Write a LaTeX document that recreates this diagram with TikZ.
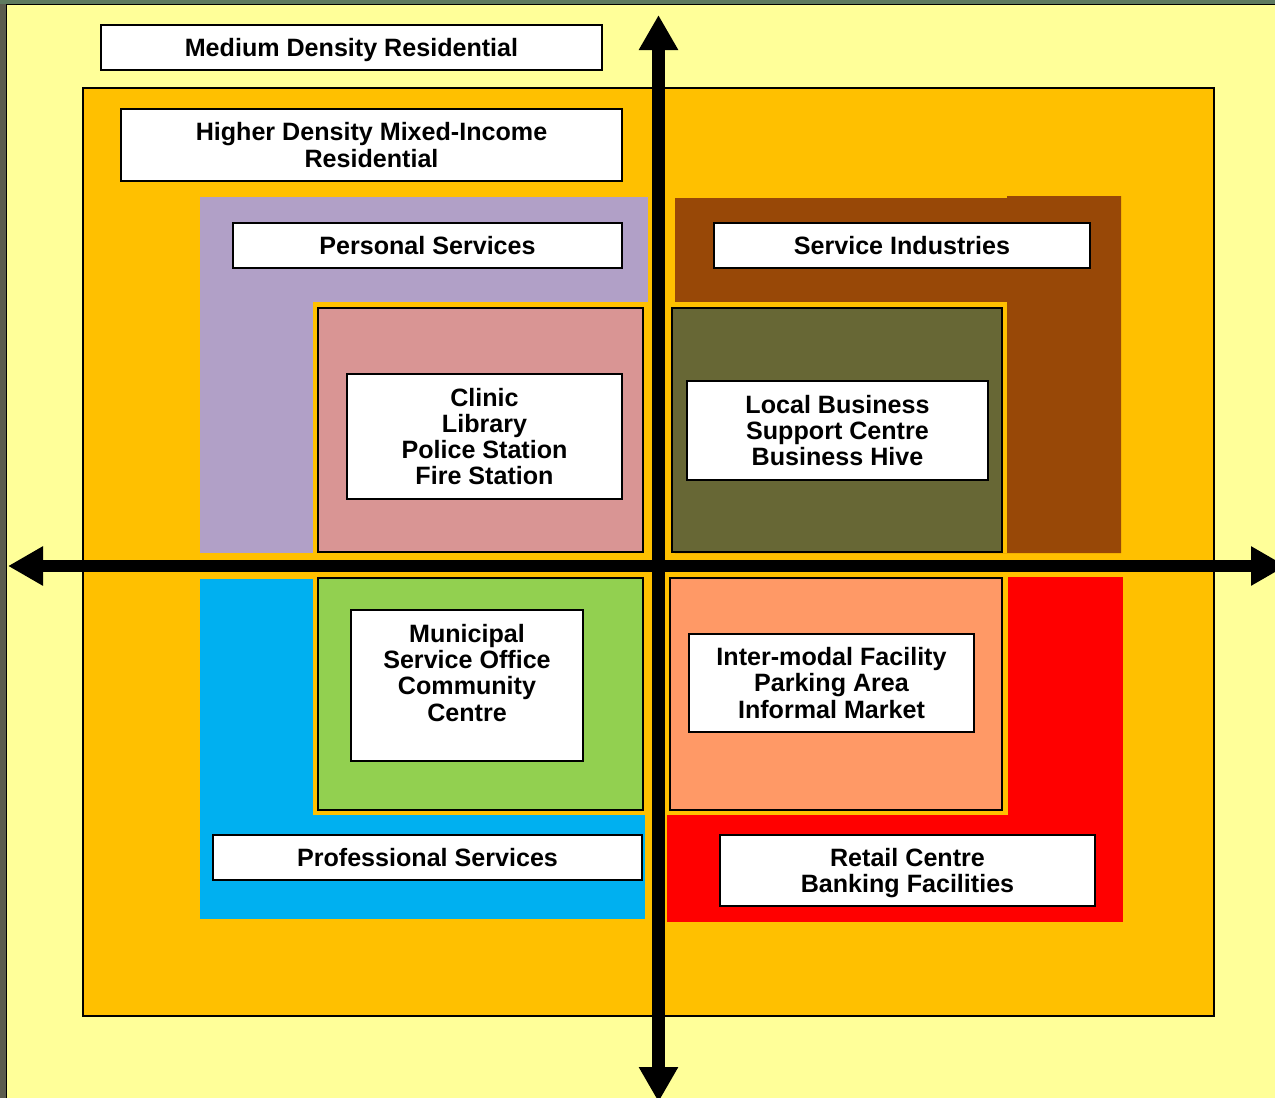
\documentclass[tikz,border=0pt]{standalone}
\usepackage{fontspec}
\setmainfont{Liberation Sans}
\usetikzlibrary{arrows.meta}

\definecolor{paper}{HTML}{FFFF99}
\definecolor{frameL}{HTML}{5B5C4E}
\definecolor{frameT}{HTML}{5E7A60}
\definecolor{amber}{HTML}{FFC000}
\definecolor{lavender}{HTML}{B1A0C7}
\definecolor{rose}{HTML}{D99594}
\definecolor{rust}{HTML}{984807}
\definecolor{olive}{HTML}{676735}
\definecolor{sky}{HTML}{00B0F0}
\definecolor{lime}{HTML}{92D050}
\definecolor{salmon}{HTML}{FF9966}
\definecolor{scarlet}{HTML}{FF0000}

\begin{document}
\begin{tikzpicture}[x=1pt,y=-1pt,
  labelbox/.style={draw=black, line width=2pt, fill=white, inner sep=0pt,
    align=center, font=\fontsize{25.1}{26.3}\selectfont\bfseries},
  labeltext/.style={inner sep=0pt, align=center,
    font=\fontsize{25.1}{26.3}\selectfont\bfseries},
  zone/.style={draw=black, line width=2pt},
  axis/.style={line width=12.5pt, draw=black,
    {Triangle[length=35pt,width=37pt]}-{Triangle[length=35pt,width=37pt]}}]

\useasboundingbox (0,0) rectangle (1275,1098);

% page background and frame edges
\fill[paper] (0,0) rectangle (1275,1098);
\fill[frameL] (0,0) rectangle (6,1098);
\fill[frameT] (0,0) rectangle (1275,3.5);
\draw[line width=1.5pt] (6.5,1098) -- (6.5,4.5) -- (1275,4.5);

% outer medium density band
\node[labelbox, text depth=0pt, minimum width=501pt, minimum height=45pt] (medium) at (351.5,47.5)
  {Medium Density Residential};

% higher density core
\draw[fill=amber, line width=1.5pt] (83,88) rectangle (1214,1016);
\node[labelbox, minimum width=501pt, minimum height=72pt] (higher) at (371.5,145)
  {Higher Density Mixed-Income\\Residential};

% upper left quadrant: personal services
\fill[lavender] (200,197) rectangle (648,553);
\fill[amber] (313,302) rectangle (648,553);
\draw[zone, fill=rose] (318,308) rectangle (643,552);

% upper right quadrant: service industries
\fill[rust] (675,198) -- (1007,198) -- (1007,196) -- (1121,196)
  -- (1121,553) -- (675,553) -- cycle;
\fill[amber] (667,302) rectangle (1007,553);
\draw[zone, fill=olive] (672,308) rectangle (1002,552);

% lower left quadrant: professional services
\fill[sky] (200,579) rectangle (645,919);
\fill[amber] (313,575) rectangle (648,815);
\draw[zone, fill=lime] (318,578) rectangle (643,810);

% lower right quadrant: retail
\fill[scarlet] (667,577) rectangle (1123,922);
\fill[amber] (665,575) rectangle (1008,815);
\draw[zone, fill=salmon] (670,578) rectangle (1002,810);

% quadrant labels
\node[labelbox, minimum width=389pt, minimum height=45pt] (personal) at (427.5,245.5)
  {Personal Services};
\node[labelbox, minimum width=376pt, minimum height=45pt] (industries) at (902,245.5)
  {Service Industries};
\node[labelbox, minimum width=275pt, minimum height=125pt] (civic) at (484.5,436.5)
  {Clinic\\Library\\Police Station\\Fire Station};
\node[labelbox, minimum width=301pt, minimum height=99pt] (business) at (837.5,430.5)
  {Local Business\\Support Centre\\Business Hive};
\node[labelbox, minimum width=232pt, minimum height=151pt] (municipal) at (467,685.5) {};
\node[labeltext, anchor=north] (municipaltext) at ([yshift=-15pt]municipal.north)
  {Municipal\\Service Office\\Community\\Centre};
\node[labelbox, minimum width=285pt, minimum height=98pt] (transport) at (831.5,683)
  {Inter-modal Facility\\Parking Area\\Informal Market};
\node[labelbox, minimum width=429pt, minimum height=45pt] (professional) at (427.5,857.5)
  {Professional Services};
\node[labelbox, text depth=0pt, minimum width=375pt, minimum height=71pt] (retail) at (907.5,870.5)
  {Retail Centre\\Banking Facilities};

% axes
\coordinate (north) at (658.5,15);
\coordinate (south) at (658.5,1102);
\coordinate (west) at (8,566);
\coordinate (east) at (1286,566);
\draw[axis] (south) -- (north);
\draw[axis] (west) -- (east);
\end{tikzpicture}
\end{document}
